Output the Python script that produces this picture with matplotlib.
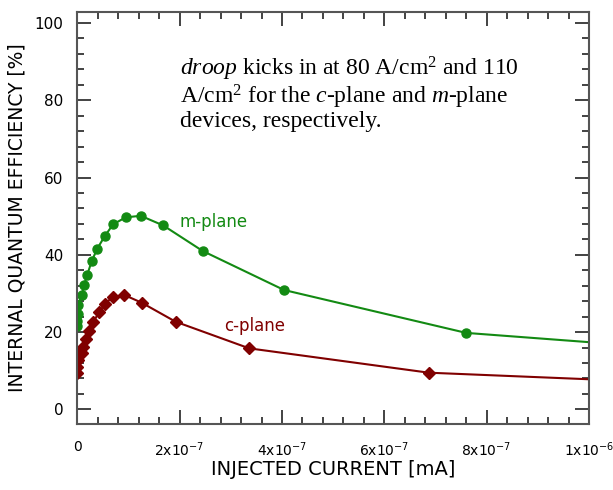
import matplotlib
matplotlib.use('Agg')
import matplotlib.pyplot as plt
from matplotlib.ticker import MultipleLocator, FixedLocator

# m-plane (green circles)
m_current = [0.002e-7, 0.003e-7, 0.0045e-7, 0.006e-7, 0.09e-7, 0.131e-7, 0.196e-7, 0.28e-7,
             0.39e-7, 0.535e-7, 0.70e-7, 0.946e-7, 1.24e-7, 1.68e-7, 2.45e-7, 4.04e-7, 7.6e-7, 10.0e-7]
m_iqe = [21.5, 22.8, 24.8, 27.0, 29.6, 32.1, 34.9, 38.3,
         41.6, 44.8, 47.9, 49.7, 50.1, 47.6, 41.0, 30.9, 19.8, 17.4]

# c-plane (dark red diamonds)
c_current = [0.001e-7, 0.002e-7, 0.004e-7, 0.006e-7, 0.086e-7, 0.117e-7, 0.17e-7, 0.235e-7,
             0.31e-7, 0.42e-7, 0.55e-7, 0.69e-7, 0.92e-7, 1.26e-7, 1.92e-7, 3.36e-7, 6.87e-7, 10.0e-7]
c_iqe = [9.3, 11.0, 12.8, 14.0, 14.5, 16.2, 18.1, 20.3,
         22.5, 25.1, 27.4, 29.1, 29.6, 27.6, 22.7, 15.8, 9.5, 7.8]

x_ticks = [0, 2e-7, 4e-7, 6e-7, 8e-7, 1e-6]
x_labels = ['0', '2x10$^{-7}$', '4x10$^{-7}$', '6x10$^{-7}$', '8x10$^{-7}$', '1x10$^{-6}$']

green = '#138a13'
red = '#800000'

fig = plt.figure(figsize=(6.13, 4.90), dpi=100)
ax = fig.add_axes([0.1261, 0.1353, 0.8347, 0.8407])

# last point sits on the frame edge, no marker drawn there
ax.plot(m_current, m_iqe, '-o', color=green, linewidth=1.5, markersize=6.5,
        markevery=list(range(len(m_current) - 1)))
ax.plot(c_current, c_iqe, '-D', color=red, linewidth=1.5, markersize=6,
        markevery=list(range(len(c_current) - 1)))

ax.set_xlim(0, 1e-6)
ax.set_ylim(-3.7, 102.9)

ax.xaxis.set_major_locator(FixedLocator(x_ticks))
ax.set_xticklabels(x_labels)
ax.xaxis.set_minor_locator(MultipleLocator(0.4e-7))
ax.yaxis.set_major_locator(MultipleLocator(20))
ax.yaxis.set_minor_locator(MultipleLocator(4))

ax.tick_params(which='both', direction='in', top=True, right=True, colors='#222222',
               labelcolor='black')
ax.tick_params(which='major', length=10, width=1.2)
ax.tick_params(which='minor', length=5, width=1.2)
ax.tick_params(axis='y', pad=10, labelsize=11)
ax.tick_params(axis='x', pad=12, labelsize=10)

for s in ax.spines.values():
    s.set_color('#555555')
    s.set_linewidth(1.5)

ax.set_xlabel('INJECTED CURRENT [mA]', fontsize=14, labelpad=1)
ax.set_ylabel('INTERNAL QUANTUM EFFICIENCY [%]', fontsize=13.5, labelpad=6)

ax.text(2.67e-7, 48.5, 'm-plane', color=green, fontsize=12, ha='center', va='center')
ax.text(3.47e-7, 21.5, 'c-plane', color=red, fontsize=12, ha='center', va='center')

note = ('$\\it{droop}$ kicks in at 80 A/cm$^2$ and 110\n'
        'A/cm$^2$ for the $\\it{c}$-plane and $\\it{m}$-plane\n'
        'devices, respectively.')
plt.rcParams['mathtext.fontset'] = 'custom'
plt.rcParams['mathtext.rm'] = 'Liberation Serif'
plt.rcParams['mathtext.it'] = 'Liberation Serif:italic'
ax.text(0.2, 0.895, note, transform=ax.transAxes, family='Liberation Serif',
        fontsize=17, va='top', ha='left', linespacing=1.0)

fig.savefig('out.png', dpi=100)
